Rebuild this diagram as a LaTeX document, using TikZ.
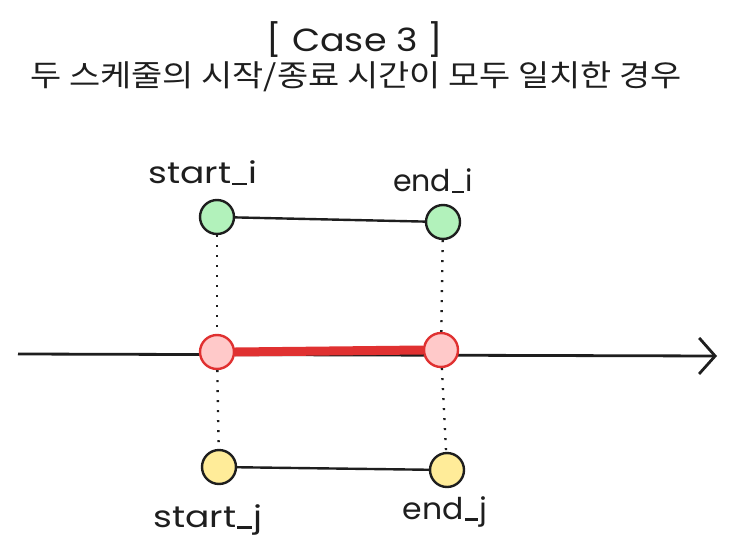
\documentclass[tikz,border=0pt]{standalone}
\usepackage{fontspec}
\setmainfont{Poppins}
\newfontfamily\krfont{Noto Sans CJK KR}
\usetikzlibrary{arrows.meta}
\definecolor{ink}{HTML}{1E1E1E}
\definecolor{gfill}{HTML}{B2F2BB}
\definecolor{rfill}{HTML}{FFC9C9}
\definecolor{rline}{HTML}{E03131}
\definecolor{yfill}{HTML}{FFEC99}
\tikzset{
  x=1pt,y=-1pt,
  dotcircle/.style={circle,draw=ink,line width=2.4pt,minimum size=34pt,inner sep=0pt},
  gnode/.style={dotcircle,fill=gfill},
  rnode/.style={dotcircle,draw=rline,fill=rfill},
  ynode/.style={dotcircle,fill=yfill},
  lbl/.style={font=\fontsize{30}{34}\selectfont,text=ink,inner sep=0pt},
  guide/.style={ink,line width=2.4pt,dash pattern=on 2pt off 8pt},
  link/.style={ink,line width=2.4pt}
}
\newcommand{\wide}[2]{\scalebox{#1}[1]{#2}}
\newcommand{\us}{\kern1pt\rule[-1pt]{12pt}{2.4pt}\kern1.5pt}
\begin{document}
\begin{tikzpicture}
\useasboundingbox[fill=white] (0,0) rectangle (738,559);
\node[lbl,font=\fontsize{32}{36}\selectfont] (title) at (355,40) {\wide{1.14}{[ Case 3 ]}};
\node[lbl,font=\krfont\fontsize{30}{34}\selectfont] (sub) at (356,77) {\wide{1.13}{두 스케줄의 시작/종료 시간이 모두 일치한 경우}};
% axis
\coordinate (ax0) at (18,354);
\coordinate (ax1) at (717,356);
\draw[link,line width=2.8pt,-{Straight Barb[length=16pt,width=36pt,line width=2.8pt]}] (ax0) -- (ax1);
% nodes
\node[gnode] (gi) at (217,217) {};
\node[gnode] (gj) at (443,222) {};
\node[rnode] (ri) at (217,352) {};
\node[rnode] (rj) at (441,350) {};
\node[ynode] (yi) at (219,467) {};
\node[ynode] (yj) at (447,470) {};
% guides
\draw[guide] (gi) -- (ri);
\draw[guide] (ri) -- (yi);
\draw[guide] (gj) -- (rj);
\draw[guide] (rj) -- (yj);
% links
\draw[link] (gi) -- (gj);
\draw[link] (yi) -- (yj);
\draw[rline,line width=9pt] (ri.east) -- (rj.west);
% labels
\node[lbl] (li) at (203,173) {\wide{1.2}{start\us i}};
\node[lbl] (le) at (433,181) {\wide{1.0}{end\us i}};
\node[lbl] (lsj) at (208,520) {\wide{1.2}{start\us j}};
\node[lbl] (lej) at (445,512) {\wide{1.05}{end\us j}};
\end{tikzpicture}
\end{document}
